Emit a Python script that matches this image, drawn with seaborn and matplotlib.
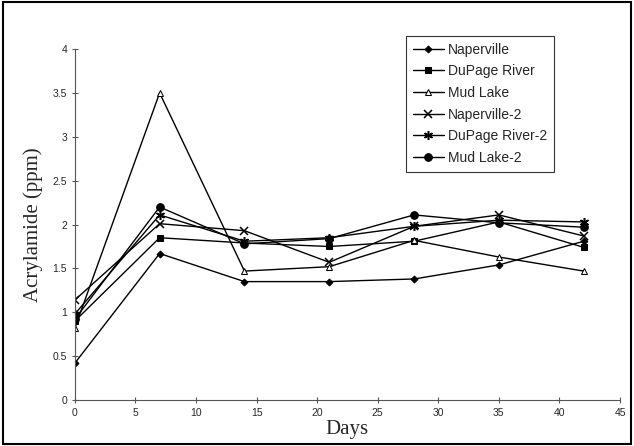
import pandas as pd
import seaborn as sns
import matplotlib.pyplot as plt
from matplotlib.patches import Rectangle

days = [0, 7, 14, 21, 28, 35, 42]
sites = ['Naperville', 'DuPage River', 'Mud Lake', 'Naperville-2', 'DuPage River-2', 'Mud Lake-2']
naperville = [0.42, 1.67, 1.35, 1.35, 1.38, 1.54, 1.81]
dupage = [0.90, 1.85, 1.79, 1.75, 1.81, 2.03, 1.74]
mud_lake = [0.82, 3.50, 1.47, 1.52, 1.82, 1.63, 1.47]
naperville2 = [1.14, 2.01, 1.93, 1.57, 1.98, 2.11, 1.87]
dupage2 = [0.98, 2.11, 1.81, 1.85, 1.98, 2.05, 2.03]
mud_lake2 = [0.92, 2.20, 1.78, 1.84, 2.11, 2.02, 1.97]
values = [naperville, dupage, mud_lake, naperville2, dupage2, mud_lake2]

rows = []
for s, v in zip(sites, values):
    for d, a in zip(days, v):
        rows.append({'site': s, 'day': d, 'ppm': a})
df = pd.DataFrame(rows)

sns.set_style('white')
plt.rcParams['font.family'] = ['Liberation Sans', 'DejaVu Sans']

fig = plt.figure(figsize=(6.34, 4.46), dpi=100)
ax = fig.add_axes([0.118, 0.103, 0.86, 0.787])

styles = {
    'Naperville': dict(marker='D', markersize=3.5, markerfacecolor='black'),
    'DuPage River': dict(marker='s', markersize=5, markerfacecolor='black'),
    'Mud Lake': dict(marker='^', markersize=5, markerfacecolor='white'),
    'Naperville-2': dict(marker='x', markersize=5.5, markeredgewidth=1.1),
    'DuPage River-2': dict(marker=(6, 2, 0), markersize=6.5, markeredgewidth=1.1),
    'Mud Lake-2': dict(marker='o', markersize=5.5, markerfacecolor='black'),
}
for s in sites:
    sns.lineplot(data=df[df['site'] == s], x='day', y='ppm', ax=ax, color='black',
                 linewidth=1.0, label=s, markeredgecolor='black', **styles[s])

ax.set_xlim(0, 45)
ax.set_ylim(0, 4)
ax.set_xticks(range(0, 46, 5))
ax.set_yticks([0, 0.5, 1, 1.5, 2, 2.5, 3, 3.5, 4])
ax.set_yticklabels(['0', '0.5', '1', '1.5', '2', '2.5', '3', '3.5', '4'])
ax.tick_params(axis='both', labelsize=7.5, length=4, direction='inout', width=0.8, color='#555555',
               left=True, bottom=True)
for side in ['top', 'right']:
    ax.spines[side].set_visible(False)
for side in ['left', 'bottom']:
    ax.spines[side].set_color('#555555')
    ax.spines[side].set_linewidth(0.8)

ax.set_xlabel('Days', family='Liberation Serif', fontsize=15, labelpad=2)
ax.set_ylabel('Acrylamide (ppm)', family='Liberation Serif', fontsize=15, labelpad=7)

leg = ax.legend(loc='upper left', bbox_to_anchor=(0.595, 1.058), frameon=True, fancybox=False,
                fontsize=10, handlelength=2.2, borderpad=0.5, labelspacing=0.55, handletextpad=0.3)
leg.get_frame().set_edgecolor('black')
leg.get_frame().set_linewidth(0.8)

fig.patches.append(Rectangle((0.004, 0.004), 0.992, 0.992, transform=fig.transFigure,
                             fill=False, edgecolor='black', linewidth=1.5))

fig.savefig('out.png', dpi=100)
